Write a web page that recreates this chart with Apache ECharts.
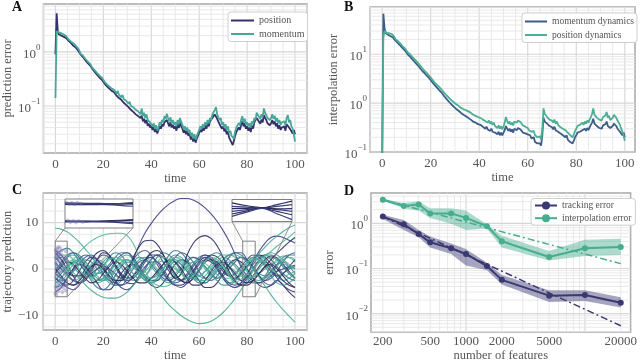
<!DOCTYPE html>
<html>
<head>
<meta charset="utf-8">
<script src="https://cdn.jsdelivr.net/npm/echarts@6/dist/echarts.min.js"></script>
<style>
  html, body { margin: 0; padding: 0; background: #fff; }
  #chart { width: 640px; height: 363px; }
</style>
</head>
<body>
<div id="chart"></div>
<script>
// ---------- data: panel A (prediction error, sampled every 0.5 time units) ----------
const timeStep = 0.5;
const predPosition = [
  0.9, 5.2, 2.3, 2.1, 2.25, 2.0, 2.1, 1.9, 2.0, 1.8,
  1.75, 1.6, 1.7, 1.45, 1.5, 1.3, 1.38, 1.2, 1.22, 1.05,
  0.98, 0.9, 0.88, 0.8, 0.78, 0.7, 0.72, 0.62, 0.64, 0.56,
  0.52, 0.48, 0.47, 0.42, 0.42, 0.37, 0.38, 0.33, 0.34, 0.3,
  0.28, 0.26, 0.26, 0.23, 0.24, 0.21, 0.22, 0.19, 0.2, 0.18,
  0.175, 0.155, 0.165, 0.14, 0.15, 0.13, 0.135, 0.115, 0.12, 0.105,
  0.105, 0.095, 0.1, 0.085, 0.09, 0.078, 0.082, 0.07, 0.075, 0.065,
  0.07, 0.06, 0.066, 0.052, 0.058, 0.048, 0.055, 0.043, 0.047, 0.04,
  0.044, 0.036, 0.041, 0.033, 0.038, 0.031, 0.036, 0.042, 0.038, 0.046,
  0.042, 0.05, 0.046, 0.055, 0.048, 0.042, 0.05, 0.04, 0.045, 0.038,
  0.042, 0.035, 0.046, 0.039, 0.05, 0.042, 0.038, 0.032, 0.036, 0.03,
  0.034, 0.028, 0.031, 0.024, 0.027, 0.022, 0.026, 0.021, 0.025, 0.028,
  0.032, 0.036, 0.033, 0.04, 0.035, 0.044, 0.038, 0.048, 0.042, 0.052,
  0.048, 0.06, 0.056, 0.07, 0.075, 0.058, 0.06, 0.046, 0.05, 0.038,
  0.042, 0.034, 0.038, 0.03, 0.034, 0.026, 0.028, 0.021, 0.019, 0.023,
  0.028, 0.033, 0.031, 0.04, 0.036, 0.045, 0.052, 0.042, 0.048, 0.038,
  0.042, 0.035, 0.04, 0.033, 0.043, 0.038, 0.05, 0.046, 0.06, 0.055,
  0.052, 0.047, 0.056, 0.05, 0.068, 0.06, 0.055, 0.048, 0.052, 0.044,
  0.048, 0.055, 0.046, 0.052, 0.042, 0.048, 0.038, 0.044, 0.036, 0.04,
  0.037, 0.042, 0.035, 0.046, 0.05, 0.04, 0.043, 0.034, 0.031, 0.036,
  0.03
];
const predMomentum = [
  0.14, 2.4, 2.6, 2.3, 2.5, 2.2, 2.35, 2.1, 2.2, 1.95,
  1.9, 1.7, 1.85, 1.55, 1.6, 1.45, 1.5, 1.3, 1.35, 1.15,
  1.05, 0.92, 0.98, 0.85, 0.88, 0.74, 0.8, 0.66, 0.7, 0.6,
  0.56, 0.5, 0.54, 0.45, 0.47, 0.4, 0.43, 0.36, 0.38, 0.33,
  0.31, 0.28, 0.3, 0.25, 0.27, 0.23, 0.25, 0.21, 0.22, 0.2,
  0.2, 0.17, 0.19, 0.16, 0.17, 0.145, 0.16, 0.135, 0.14, 0.125,
  0.13, 0.11, 0.12, 0.1, 0.105, 0.095, 0.1, 0.085, 0.09, 0.08,
  0.085, 0.07, 0.09, 0.065, 0.075, 0.06, 0.07, 0.055, 0.058, 0.05,
  0.052, 0.042, 0.048, 0.038, 0.044, 0.035, 0.04, 0.05, 0.045, 0.055,
  0.05, 0.065, 0.058, 0.072, 0.06, 0.052, 0.062, 0.048, 0.055, 0.045,
  0.05, 0.042, 0.055, 0.046, 0.06, 0.05, 0.045, 0.038, 0.042, 0.035,
  0.04, 0.033, 0.036, 0.028, 0.032, 0.025, 0.03, 0.024, 0.028, 0.032,
  0.036, 0.042, 0.038, 0.046, 0.04, 0.05, 0.044, 0.055, 0.048, 0.06,
  0.055, 0.07, 0.065, 0.085, 0.095, 0.07, 0.075, 0.055, 0.06, 0.045,
  0.05, 0.04, 0.046, 0.036, 0.042, 0.032, 0.035, 0.028, 0.03, 0.025,
  0.034, 0.04, 0.038, 0.048, 0.044, 0.055, 0.065, 0.05, 0.058, 0.045,
  0.05, 0.042, 0.048, 0.04, 0.052, 0.046, 0.06, 0.055, 0.075, 0.068,
  0.065, 0.058, 0.07, 0.062, 0.09, 0.075, 0.068, 0.06, 0.065, 0.055,
  0.06, 0.07, 0.058, 0.066, 0.052, 0.06, 0.048, 0.055, 0.045, 0.05,
  0.046, 0.052, 0.044, 0.06, 0.068, 0.05, 0.055, 0.042, 0.038, 0.03,
  0.022
];

// ---------- data: panel B (interpolation error) ----------
const interpMomentumDyn = [
  0.05, 68, 34, 27, 26, 25, 25.5, 23.5, 24, 22,
  21, 19, 19.5, 17, 17.5, 15, 15.5, 13.2, 13.5, 11.8,
  11.2, 10, 10.3, 9, 9.1, 7.9, 8, 6.9, 7, 6.1,
  5.8, 5.3, 5.4, 4.6, 4.8, 4.1, 4.2, 3.6, 3.7, 3.2,
  3.1, 2.75, 2.8, 2.4, 2.45, 2.1, 2.15, 1.85, 1.9, 1.65,
  1.6, 1.4, 1.45, 1.22, 1.25, 1.08, 1.1, 0.95, 0.98, 0.85,
  0.86, 0.76, 0.8, 0.7, 0.72, 0.63, 0.66, 0.58, 0.6, 0.54,
  0.56, 0.5, 0.53, 0.46, 0.48, 0.42, 0.45, 0.4, 0.42, 0.37,
  0.4, 0.36, 0.38, 0.33, 0.35, 0.3, 0.33, 0.29, 0.31, 0.27,
  0.3, 0.26, 0.28, 0.25, 0.27, 0.23, 0.26, 0.22, 0.25, 0.22,
  0.24, 0.28, 0.34, 0.3, 0.27, 0.3, 0.26, 0.29, 0.25, 0.3,
  0.32, 0.28, 0.31, 0.34, 0.29, 0.27, 0.25, 0.27, 0.24, 0.26,
  0.23, 0.21, 0.22, 0.19, 0.18, 0.2, 0.16, 0.17, 0.15, 0.14,
  0.15, 0.135, 0.22, 0.5, 0.42, 0.45, 0.38, 0.4, 0.34, 0.36,
  0.32, 0.29, 0.33, 0.28, 0.3, 0.26, 0.28, 0.24, 0.26, 0.22,
  0.23, 0.2, 0.22, 0.18, 0.19, 0.16, 0.17, 0.15, 0.17, 0.2,
  0.22, 0.25, 0.23, 0.26, 0.24, 0.28, 0.26, 0.3, 0.27, 0.31,
  0.28, 0.32, 0.36, 0.4, 0.48, 0.38, 0.4, 0.34, 0.36, 0.31,
  0.34, 0.3, 0.35, 0.32, 0.37, 0.42, 0.34, 0.37, 0.31, 0.33,
  0.34, 0.38, 0.4, 0.34, 0.3, 0.28, 0.26, 0.24, 0.22, 0.25,
  0.2
];
const interpPositionDyn = [
  0.05, 22, 30, 28, 27, 26.5, 27, 25, 26, 24,
  23, 20.5, 21, 18.5, 19, 16.5, 17, 14.5, 15, 13,
  12.5, 11, 11.5, 10, 10.2, 8.8, 9, 7.8, 8, 6.9,
  6.6, 6, 6.1, 5.2, 5.4, 4.6, 4.8, 4.1, 4.2, 3.6,
  3.5, 3.1, 3.2, 2.7, 2.8, 2.4, 2.5, 2.15, 2.2, 1.9,
  1.9, 1.65, 1.7, 1.45, 1.5, 1.3, 1.35, 1.15, 1.2, 1.05,
  1.1, 0.95, 1.0, 0.88, 0.92, 0.8, 0.86, 0.75, 0.8, 0.72,
  0.76, 0.68, 0.72, 0.64, 0.66, 0.58, 0.62, 0.55, 0.58, 0.52,
  0.56, 0.5, 0.53, 0.46, 0.5, 0.43, 0.47, 0.4, 0.44, 0.38,
  0.42, 0.36, 0.4, 0.34, 0.37, 0.31, 0.35, 0.3, 0.34, 0.29,
  0.33, 0.4, 0.52, 0.44, 0.38, 0.42, 0.36, 0.4, 0.35, 0.42,
  0.46, 0.4, 0.44, 0.48, 0.41, 0.38, 0.35, 0.38, 0.33, 0.36,
  0.31, 0.28, 0.3, 0.26, 0.24, 0.27, 0.22, 0.24, 0.2, 0.19,
  0.21, 0.18, 0.3, 0.78, 0.6, 0.65, 0.52, 0.56, 0.46, 0.5,
  0.44, 0.4, 0.46, 0.38, 0.42, 0.36, 0.38, 0.32, 0.35, 0.3,
  0.32, 0.28, 0.3, 0.25, 0.26, 0.22, 0.24, 0.2, 0.23, 0.27,
  0.3, 0.34, 0.31, 0.36, 0.33, 0.4, 0.36, 0.42, 0.38, 0.44,
  0.4, 0.46, 0.52, 0.6, 0.78, 0.58, 0.62, 0.5, 0.54, 0.46,
  0.5, 0.44, 0.52, 0.48, 0.56, 0.66, 0.5, 0.55, 0.45, 0.48,
  0.5, 0.58, 0.62, 0.5, 0.44, 0.4, 0.36, 0.3, 0.26, 0.22,
  0.17
];

// ---------- data: panel C (trajectory prediction, sampled every 2.5 time units) ----------
const trajStep = 2.5;
const trajectories = [
  [4, 3, 1, -1.5, -3, -2.5, -0.5, 2, 3.5, 3, 1, -1.5, -3, -3.2, -2, 0, 2, 3, 2.5, 1, -1, -2.5, -3, -2, 0, 2, 3, 2.6, 1, -1, -2.8, -3.5, -3, -1.5, 0.5, 2, 2.8, 2.4, 1, -0.5, -2],
  [-4, -3.5, -2, 0, 2, 3, 2.5, 1, -1, -2.5, -3, -2, 0, 2, 3.5, 4, 3, 1, -1, -2.5, -3, -2.5, -1, 1, 2.5, 3, 2, 0, -2, -3.5, -4, -3, -1, 1, 2.5, 3, 2, 0.5, -1, -2, -2.5],
  [2, 2.5, 2, 0.5, -1, -2, -1.5, 0, 1.5, 2.5, 2, 0.5, -1.5, -2.5, -2, 0, 2, 3, 2.5, 0.5, -1.5, -2.5, -2, -0.5, 1.5, 2.5, 2, 0, -2, -3, -2.5, -1, 1, 2.5, 3, 2, 0, -1.5, -2.5, -2, -1],
  [0, 1, 2.5, 3, 2, 0, -2, -3, -2.5, -1, 1, 2.5, 3, 2, 0, -1.5, -2.5, -2, 0, 2, 3, 2.5, 1, -1, -2.5, -3, -2, 0, 2, 3, 2.5, 1, -0.5, -2, -2.5, -1.5, 0.5, 2, 2.8, 2.5, 1.5],
  [-2, -3, -4, -4.5, -3.5, -1.5, 0.5, 1.5, 1, -0.5, -2.5, -4, -4.5, -3.5, -1.5, 0.5, 1.5, 1.5, 0, -2, -3.5, -4, -3, -1, 1, 2, 1.5, 0, -2, -3.5, -4, -3.5, -2, 0, 1.5, 1.5, 0, -2, -3.5, -4.5, -5],
  [3, 4, 4.5, 3.5, 1.5, -0.5, -1.5, -1, 0.5, 2.5, 3.5, 3, 1, -1, -2, -1.5, 0.5, 2.5, 3.5, 3, 1.5, -0.5, -2, -2, -0.5, 1.5, 3, 3.5, 2.5, 0.5, -1.5, -2.5, -2, 0, 2, 3, 3, 2, 0.5, -1, -2],
  [1, 0, -1.5, -2.5, -2, -0.5, 1, 2, 1.5, 0, -1.5, -2, -1, 0.5, 2, 2.5, 1.5, 0, -1.5, -2, -1, 0.5, 2, 2.5, 1.5, 0, -1.5, -2, -1, 0.5, 2, 2.5, 1.5, 0, -1.5, -2, -1, 0.5, 2, 2.5, 2],
  [-5, -4, -2, 0, 1, 0.5, -1, -3, -4.5, -4.5, -3, -1, 0.5, 1, 0, -2, -3.5, -4, -3, -1, 1, 2, 1.5, -0.5, -2.5, -4, -4, -3, -1, 1, 2, 1.5, 0, -2, -3.5, -4, -3.5, -2.5, -3.5, -5, -6.2],
  [-1, 1, 2.5, 3.5, 3, 1.5, 0, -1, -0.5, 1, 2.5, 3.5, 3.5, 2, 0, -1.5, -2, -1, 1, 3, 4, 3.5, 2, 0, -1.5, -2, -1, 0.5, 2, 3, 3.5, 3, 1.5, 0, -1, -1.5, -0.5, 1, 2.5, 3, 3],
  [1.5, 0, -1, -0.5, 1, 2.5, 3, 2, 0, -2, -3.5, -3.5, -2, 0, 1.5, 2, 1, -0.5, -2, -2.5, -1.5, 0, 1.5, 2.5, 2, 0.5, -1, -2, -1.5, 0, 1.5, 2.5, 2, 0.5, -1.5, -3, -3.5, -2.5, -1, 0, 0.5],
  [-3, -2, 0, 1.5, 2, 1, -0.5, -2, -2.5, -1.5, 0, 1.5, 2, 1, -1, -2.5, -3, -2, 0, 1.5, 2, 1, -0.5, -2, -2.5, -1.5, 0, 1.5, 2.5, 2, 0.5, -1, -2, -1.5, 0, 1.5, 2.5, 2, 0.5, -1, -2],
  [2.5, 1, -1, -2.5, -3, -2, 0, 2, 3, 2.5, 0.5, -1.5, -2.5, -2, -0.5, 1.5, 3, 3, 1.5, -0.5, -2, -2.5, -1.5, 0.5, 2, 3, 2.5, 1, -0.5, -1.5, -1, 0.5, 2, 3, 2.5, 1, -0.5, -1.5, -1, 0.5, 2],
  [-2.5, -1, 0.5, 1.5, 1, -0.5, -2.5, -4, -4.5, -3.5, -1.5, 0.5, 1.5, 1, -0.5, -2, -3, -2.5, -1, 0.5, 1.5, 1, -0.5, -2, -3, -3, -2, -0.5, 1, 1.5, 1, -0.5, -2, -3, -3, -2, -0.5, 1, 1.5, 0.5, -1],
  [-0.5, 1.5, 3, 3.5, 2.5, 0.5, -1.5, -2.5, -2, -0.5, 1.5, 3, 3.5, 2.5, 0.5, -1.5, -2.5, -2.5, -1, 1, 2.5, 3.5, 3, 1.5, -0.5, -2, -2.5, -1.5, 0.5, 2.5, 3.5, 3.5, 2, 0, -1.5, -2.5, -2, -0.5, 1.5, 3, 3.5],
  [-2, -2.5, -2, -0.5, 1, 2, 1.5, 0, -1.5, -3, -3.5, -2.5, -0.5, 1.5, 2.5, 2, 0.5, -1, -2.5, -3, -2.5, -1, 0.5, 1.5, 1.5, 0.5, -1, -2.5, -3.5, -3.5, -2.5, -0.5, 1.5, 2.5, 2, 0.5, -1.5, -3, -3.5, -3, -2],
  [3.5, 2, 0, -1.5, -1.5, 0, 2, 3.5, 4, 3, 1, -1, -2, -1.5, 0, 2, 3.5, 4, 3, 1, -1, -2.5, -3, -2, 0, 1.5, 2, 1.5, 0, -1.5, -2, -1, 0.5, 2, 3, 2.5, 1, -1, -2.5, -3.5, -4],
  [-1, -2, -3, -3.5, -3, -2, -1, 0, 0.5, 0, -1, -2, -1, 2, 5.2, 7.8, 9.8, 11.5, 12.9, 14, 14.8, 15.2, 15.2, 14.9, 14.2, 13.2, 11.9, 10.3, 8.3, 6, 3.2, 0.5, -1.5, -2.5, -3, -2.5, -1.5, -0.5, 0, 0.5, 0.8],
  [8.8, 8.6, 8, 7, 5.8, 4.3, 2.8, 1.2, -0.3, -1.5, -2.2, -2.4, -2.2, -1.6, -1.2, -1.8, -3, -4.8, -6.3, -7.8, -9, -10.1, -10.9, -11.5, -11.8, -11.7, -11.3, -10.5, -9.4, -8, -6.4, -4.5, -2.5, -0.5, 1.5, 3, 3.5, 3, 2, 1, 0],
  [-3, -2, 0, 2, 3.6, 4.9, 6, 6.8, 7.3, 7.6, 7.7, 7.7, 7.2, 5.5, 2.6, -0.5, -2.5, -3.5, -3.8, -3.5, -2.5, -1, 0.5, 1.5, 1.8, 1.2, 0, -1.2, -2, -2, -1.2, 0, 1.2, 2, 2, 1.2, 0, -1, -1.5, -1.2, -0.5],
  [1, 0.5, 0, -0.8, -2, -3.4, -4.6, -5.5, -6.1, -6.3, -6.3, -5.9, -5, -3.6, -2, -0.5, 0.8, 1.5, 1.6, 1, 0, -1, -1.8, -2, -1.5, -0.5, 0.5, 1.2, 1.2, 0.5, -0.5, -1.5, -2, -1.8, -1, 0, 1, 1.5, 1.2, 0.5, 0],
  [0, -1.5, -3, -3.5, -2.5, -1, 0.5, 1, 0, -1.5, -2.5, -2.5, -0.5, 2.5, 4.8, 6.1, 6.2, 5.3, 3.2, 0.3, -2, -1, 3, 5.5, 6.8, 7.2, 6.6, 5, 2.5, -0.5, -2.5, -3.5, -3.5, -2.5, -1, 0.5, 1, 0, -1.5, -3, -4],
  [-2, -3, -3.5, -2.5, -0.5, 1.5, 2.5, 2, 0.5, -1.5, -3, -3.5, -3, -1.5, 0.5, 2, 2.5, 1.5, -0.5, -2.5, -3.5, -3.5, -2.5, -0.5, 1.5, 2.5, 2, 0.5, -1.5, -3, -3.5, -3, -1.5, 1.5, 3.8, 5.6, 6.8, 7.1, 6.8, 6.2, 5.6],
  [-1, 0.5, 1.5, 1, -0.5, -2, -3, -2.5, -1, 0.5, 1.5, 1, -0.5, -2, -3, -3, -2, -0.5, 1, 2, 1.5, 0, -2, -3.5, -3.5, -2.5, -0.5, 1, 1.5, 0.5, -1, -2.5, -3, -2.5, -1, 0.5, 2, 3.4, 4.6, 5.8, 6.8],
  [-1.5, -0.5, 1, 2, 1.5, 0, -1.5, -2.5, -2, -0.5, 1, 2, 2, 0.5, -1, -2.5, -3, -2, 0, 1.5, 2, 1.5, 0, -1.5, -2.5, -2.5, -1.5, 0, 0.5, -1, -2.5, -1.2, 0.3, 1.8, 3.3, 4.7, 6, 7.1, 8.1, 8.9, 9.5],
  [2, 3, 3, 2, 0, -1.5, -2, -1, 0.5, 2, 2.5, 2, 0.5, -1, -2, -1.5, 0, 1.5, 2.5, 2, 0.5, -1, -2, -1.5, 0, 1.5, 2.5, 2, 0.5, -1.5, -3, -2.2, -1.2, 0, 1.3, 2.6, 3.8, 4.9, 5.9, 6.9, 8],
  [-4, -3, -1, 1, 2, 1.5, 0, -1.5, -2.5, -2, -0.5, 1, 2, 1.5, 0, -1.5, -2, -1.5, 0, 1.5, 2.5, 2, 0.5, -1, -1.5, -0.5, 1, 2.5, 3, 3, 3, 2.5, 1.5, 0, -1.8, -3.7, -5.6, -7.3, -8.8, -10.2, -11.5]
];
const trajColors = [
  '#2b2a5a', '#3a5b8c', '#3f9a9a', '#48ab96', '#3b3f80', '#3b7a96', '#55b896', '#2b2a5a',
  '#3b7a96', '#3a5b8c', '#48ab96', '#3b3f80', '#3b7a96', '#3a5b8c', '#3f9a9a', '#2b2a5a',
  '#3b3f80', '#48ab96', '#55b896', '#48ab96', '#2b2a5a', '#3b3f80', '#2b2a5a', '#48ab96',
  '#55b896', '#48ab96'
];
const trajObs = [
  [0.2, 4.1], [0.5, 3.6], [0.8, 4.3], [1.1, 3.2], [1.4, 2.8], [0.3, -3.8], [0.6, -4.4], [0.9, -3.2],
  [1.2, -4.8], [1.5, -2.9], [0.4, 1.2], [0.7, 0.5], [1.0, 1.8], [1.3, -0.6], [1.6, -1.4], [1.9, 2.2],
  [2.2, -2.1], [2.5, 3.1], [2.8, -3.6], [3.1, 0.9], [3.4, -4.1], [3.7, 2.6], [4.0, -1.1], [4.3, 3.9],
  [4.6, -2.7], [0.1, -5.3], [0.2, 2.4], [2.0, 4.6], [3.0, -5.0], [4.8, 1.5],
  [0.3, -1.8], [0.6, 2.9], [0.9, -0.9], [1.2, 4.7], [1.5, 0.3], [1.8, -4.2], [2.1, 1.4], [2.4, -0.4],
  [2.7, 4.0], [3.3, -2.5], [3.6, 0.2], [3.9, -3.4], [4.2, 2.0], [4.5, -4.6], [0.5, -5.6], [1.7, 3.7]
];
// zoomed regions [t0, y0, t1, y1]
const insetRegions = [[0, -6, 5, 6], [78.2, -6, 83.4, 6]];
const insetLeftTime = [0, 1, 2, 3, 4, 5];
const insetLeftLines = [
  [4.4, 4.3, 4.2, 4.1, 4.0, 3.9],
  [4.0, 4.0, 3.9, 3.7, 3.4, 3.0],
  [3.8, 3.7, 3.7, 3.8, 4.0, 4.3],
  [4.2, 4.1, 4.0, 4.0, 4.1, 4.5],
  [-3.0, -3.1, -3.1, -3.0, -2.8, -2.5],
  [-3.3, -3.3, -3.4, -3.4, -3.5, -3.7],
  [-3.5, -3.5, -3.4, -3.3, -3.0, -2.8],
  [-3.2, -3.2, -3.3, -3.5, -3.8, -4.2]
];
const insetLeftObs = [
  [0.1, 4.6], [0.3, 3.9], [0.5, 4.5], [0.7, 3.8], [0.9, 4.4], [1.2, 4.0],
  [0.2, -2.8], [0.4, -3.6], [0.6, -3.0], [0.8, -3.7], [1.0, -3.1], [1.3, -3.5]
];
const insetRightTime = [78.2, 79.5, 80.8, 82.1, 83.4];
const insetRightLines = [
  [4.2, 2.6, 1.4, -0.5, -2.3],
  [2.3, 1.8, 1.4, 2.2, 3.2],
  [1.0, 1.2, 1.4, 3.2, 5.1],
  [-0.5, 0.5, 1.4, 0.5, -0.5],
  [-1.9, -0.2, 1.4, 0.9, 1.0],
  [-3.2, -0.9, 1.2, -1.8, -5.0]
];

// ---------- data: panel D (error vs number of features) ----------
const features = [200, 300, 400, 500, 750, 1000, 1500, 2000, 5000, 10000, 20000];
const trackErr = [1.41, 0.95, 0.58, 0.38, 0.28, 0.21, 0.113, 0.056, 0.025, 0.026, 0.0174];
const trackHigh = [1.55, 1.19, 0.71, 0.51, 0.36, 0.27, 0.134, 0.072, 0.033, 0.033, 0.023];
const trackLow = [1.25, 0.71, 0.49, 0.29, 0.21, 0.117, 0.092, 0.044, 0.018, 0.019, 0.0136];
const interpErr = [3.34, 2.42, 2.61, 1.66, 1.66, 1.32, 0.86, 0.4, 0.18, 0.28, 0.3];
const interpHigh = [3.5, 2.84, 3.08, 2.15, 2.15, 1.89, 0.95, 0.53, 0.245, 0.435, 0.457];
const interpLow = [3.18, 2.15, 1.89, 1.32, 0.98, 0.71, 0.77, 0.29, 0.15, 0.19, 0.2];
const fitFeatures = [200, 20000];
const trackFit = [1.41, 0.0054];
const interpFit = [3.34, 0.128];
const featureTicks = [200, 500, 1000, 2000, 5000, 20000];

// ---------- styling ----------
const FONT = '"Liberation Serif", "DejaVu Serif", serif';
const TXT = '#555';
const C_POS = '#34316b', C_MOM = '#48a898';
const C_MDYN = '#3b5d88', C_PDYN = '#4cae94';
const C_TRK = '#3a3872', C_INT = '#46ae8e';

function pairs(vals, step) { return vals.map((v, i) => [i * step, v]); }
function logTicks(lo, hi) {
  const out = [];
  for (let e = -4; e <= 5; e++) for (let d = 1; d <= 9; d++) {
    const v = +(d * Math.pow(10, e)).toPrecision(3);
    if (v >= lo && v <= hi) out.push(v);
  }
  return out;
}
function steps(lo, hi, st) { const out = []; for (let v = lo; v <= hi + 1e-9; v += st) out.push(+v.toFixed(3)); return out; }
function isPow10(v) { const l = Math.log10(v); return Math.abs(l - Math.round(l)) < 1e-6; }

function gridLines(ai, values, horizontal, ref, majorTest) {
  return {
    type: 'custom', xAxisIndex: ai, yAxisIndex: ai, silent: true, z: 1,
    data: values.map(v => horizontal ? [ref, v] : [v, ref]),
    renderItem: function (params, api) {
      const cs = params.coordSys;
      const p = api.coord([api.value(0), api.value(1)]);
      const major = majorTest(horizontal ? api.value(1) : api.value(0));
      const shape = horizontal
        ? { x1: cs.x, y1: p[1], x2: cs.x + cs.width, y2: p[1] }
        : { x1: p[0], y1: cs.y, x2: p[0], y2: cs.y + cs.height };
      return { type: 'line', shape: shape, style: { stroke: major ? '#d6d6d6' : '#e6e6e6', lineWidth: major ? 1.1 : 0.9 } };
    }
  };
}

function powLabel(v) {
  const e = Math.round(Math.log10(v));
  return '{b|10}{s|' + (e < 0 ? '\u2212' + (-e) : e) + '}';
}
const powRich = {
  b: { fontFamily: FONT, fontSize: 13, color: TXT, lineHeight: 18, verticalAlign: 'bottom' },
  s: { fontFamily: FONT, fontSize: 9, color: TXT, lineHeight: 10, verticalAlign: 'top' }
};
const nameStyle = { fontFamily: FONT, fontSize: 12.5, color: TXT };
const labelBase = { fontFamily: FONT, fontSize: 13, color: TXT };

function linAxis(idx, min, max, labels, extra) {
  return Object.assign({
    type: 'value', gridIndex: idx, min: min, max: max,
    axisLine: { show: false }, axisTick: { show: false }, splitLine: { show: false },
    axisLabel: Object.assign({ customValues: labels, formatter: v => (v < 0 ? '\u2212' + (-v) : String(v)) }, labelBase, { margin: 5 })
  }, extra || {});
}
function logAxis(idx, min, max, labels, extra) {
  return Object.assign({
    type: 'log', logBase: 10, gridIndex: idx, min: min, max: max,
    axisLine: { show: false }, axisTick: { show: false }, splitLine: { show: false },
    axisLabel: { customValues: labels, formatter: powLabel, rich: powRich, margin: 3 }
  }, extra || {});
}

const frame = { show: true, borderColor: '#a8a8a8', borderWidth: 1.5, backgroundColor: '#fff' };

const series = [];
// gridlines
series.push(gridLines(0, steps(-5, 105, 5), false, 0.1, v => v % 20 === 0));
series.push(gridLines(0, logTicks(0.0135, 7.7), true, 0, isPow10));
series.push(gridLines(1, steps(-5, 100, 5), false, 1, v => v % 20 === 0));
series.push(gridLines(1, logTicks(0.1, 93), true, 0, isPow10));
series.push(gridLines(2, steps(-5, 105, 5), false, 0, v => v % 20 === 0));
series.push(gridLines(2, steps(-12.5, 15, 2.5), true, 0, v => v % 10 === 0));
series.push(gridLines(3, logTicks(159, 24200), false, 1, isPow10));
series.push(gridLines(3, logTicks(0.0039, 4.7), true, 1000, isPow10));

// panel A
series.push({ name: 'position', type: 'line', xAxisIndex: 0, yAxisIndex: 0, data: pairs(predPosition, timeStep),
  symbol: 'none', lineStyle: { width: 1.8, color: C_POS }, itemStyle: { color: C_POS }, z: 3 });
series.push({ name: 'momentum', type: 'line', xAxisIndex: 0, yAxisIndex: 0, data: pairs(predMomentum, timeStep),
  symbol: 'none', lineStyle: { width: 1.8, color: C_MOM }, itemStyle: { color: C_MOM }, z: 3 });
// panel B
series.push({ name: 'momentum dynamics', type: 'line', xAxisIndex: 1, yAxisIndex: 1, data: pairs(interpMomentumDyn, timeStep),
  symbol: 'none', lineStyle: { width: 1.8, color: C_MDYN }, itemStyle: { color: C_MDYN }, z: 3 });
series.push({ name: 'position dynamics', type: 'line', xAxisIndex: 1, yAxisIndex: 1, data: pairs(interpPositionDyn, timeStep),
  symbol: 'none', lineStyle: { width: 1.8, color: C_PDYN }, itemStyle: { color: C_PDYN }, z: 3 });
// panel C
trajectories.forEach((tr, k) => {
  series.push({ type: 'line', xAxisIndex: 2, yAxisIndex: 2, data: pairs(tr, trajStep), smooth: 0.45,
    symbol: 'none', silent: true, lineStyle: { width: 1.1, color: trajColors[k], opacity: 0.9 }, z: 3 });
});
series.push({ type: 'scatter', xAxisIndex: 2, yAxisIndex: 2, data: trajObs, symbolSize: 4, silent: true,
  itemStyle: { color: 'rgba(120,116,180,0.5)' }, z: 4 });
series.push({ type: 'custom', xAxisIndex: 2, yAxisIndex: 2, silent: true, z: 5, data: insetRegions,
  renderItem: function (params, api) {
    const a = api.coord([api.value(0), api.value(3)]);
    const b = api.coord([api.value(2), api.value(1)]);
    return { type: 'rect', shape: { x: a[0], y: a[1], width: b[0] - a[0], height: b[1] - a[1] },
      style: { fill: 'none', stroke: '#808080', lineWidth: 1 } };
  } });
// insets
const insetNavy = ['#2b2a5a', '#3b3f80', '#2b2a5a', '#3b3f80', '#2b2a5a', '#3b3f80', '#2b2a5a', '#3b3f80'];
insetLeftLines.forEach((ln, k) => {
  series.push({ type: 'line', xAxisIndex: 4, yAxisIndex: 4, data: ln.map((v, i) => [insetLeftTime[i], v]), smooth: 0.4,
    symbol: 'none', silent: true, lineStyle: { width: 1.2, color: insetNavy[k] }, z: 12 });
});
series.push({ type: 'scatter', xAxisIndex: 4, yAxisIndex: 4, data: insetLeftObs, symbolSize: 4, silent: true,
  itemStyle: { color: 'rgba(120,116,180,0.45)' }, z: 13 });
insetRightLines.forEach((ln, k) => {
  series.push({ type: 'line', xAxisIndex: 5, yAxisIndex: 5, data: ln.map((v, i) => [insetRightTime[i], v]), smooth: 0.4,
    symbol: 'none', silent: true, lineStyle: { width: 1.2, color: insetNavy[k] }, z: 12 });
});
// panel D
function band(upper, lower, color) {
  return { type: 'custom', xAxisIndex: 3, yAxisIndex: 3, silent: true, z: 2, data: [[features[0], upper[0]]],
    renderItem: function (params, api) {
      const pts = [];
      features.forEach((f, i) => pts.push(api.coord([f, upper[i]])));
      for (let i = features.length - 1; i >= 0; i--) pts.push(api.coord([features[i], lower[i]]));
      return { type: 'polygon', shape: { points: pts }, style: { fill: color } };
    } };
}
series.push(band(trackHigh, trackLow, 'rgba(58,56,114,0.45)'));
series.push(band(interpHigh, interpLow, 'rgba(70,174,142,0.45)'));
series.push({ type: 'line', xAxisIndex: 3, yAxisIndex: 3, data: fitFeatures.map((f, i) => [f, trackFit[i]]), symbol: 'none', silent: true,
  lineStyle: { width: 1.5, color: C_TRK, type: [7, 3, 2, 3] }, z: 3 });
series.push({ type: 'line', xAxisIndex: 3, yAxisIndex: 3, data: fitFeatures.map((f, i) => [f, interpFit[i]]), symbol: 'none', silent: true,
  lineStyle: { width: 1.5, color: C_INT, type: [7, 3, 2, 3] }, z: 3 });
series.push({ name: 'tracking error', type: 'line', xAxisIndex: 3, yAxisIndex: 3, data: features.map((f, i) => [f, trackErr[i]]),
  symbol: 'circle', symbolSize: 6, lineStyle: { width: 2, color: C_TRK }, itemStyle: { color: C_TRK }, z: 4 });
series.push({ name: 'interpolation error', type: 'line', xAxisIndex: 3, yAxisIndex: 3, data: features.map((f, i) => [f, interpErr[i]]),
  symbol: 'circle', symbolSize: 6, lineStyle: { width: 2, color: C_INT }, itemStyle: { color: C_INT }, z: 4 });

const legendBase = {
  orient: 'vertical', itemWidth: 23, itemHeight: 10, itemGap: 3.3, padding: [2, 4, 2, 3],
  backgroundColor: '#fff', borderColor: '#cfcfcf', borderWidth: 1, borderRadius: 3, selectedMode: false,
  textStyle: { fontFamily: FONT, fontSize: 10, color: TXT }, lineStyle: { width: 2 }, z: 20
};
const lineLegend = { icon: 'rect', itemHeight: 2, itemGap: 2.5, padding: [3, 3, 2, 3], textStyle: { fontFamily: FONT, fontSize: 10, color: TXT, lineHeight: 11 } };
const panelLetter = (t, l, tp) => ({ text: t, left: l, top: tp, padding: 0,
  textStyle: { fontFamily: FONT, fontSize: 14, fontWeight: 'bold', color: '#111' } });

const option = {
  animation: false,
  backgroundColor: '#fff',
  title: [panelLetter('A', 12, 0), panelLetter('B', 344, 0), panelLetter('C', 12, 183), panelLetter('D', 344, 184)],
  legend: [
    Object.assign({}, legendBase, lineLegend, { data: ['position', 'momentum'], left: 228, top: 12 }),
    Object.assign({}, legendBase, lineLegend, { data: ['momentum dynamics', 'position dynamics'], left: 522, top: 13, itemWidth: 22,
      textStyle: { fontFamily: FONT, fontSize: 9.5, color: TXT, lineHeight: 11 } }),
    Object.assign({}, legendBase, { data: ['tracking error', 'interpolation error'], left: 531, top: 198.5, itemGap: 2.7, itemWidth: 22,
      textStyle: { fontFamily: FONT, fontSize: 9.5, color: TXT } })
  ],
  grid: [
    Object.assign({ left: 39, top: 4, width: 268, height: 149 }, frame),
    Object.assign({ left: 370, top: 7, width: 265, height: 145 }, frame),
    Object.assign({ left: 39, top: 193, width: 268, height: 144 }, frame),
    Object.assign({ left: 371, top: 193, width: 264, height: 144 }, frame),
    { left: 65, top: 199, width: 68, height: 29, show: true, borderColor: '#808080', borderWidth: 1, backgroundColor: '#fff', z: 10 },
    { left: 232, top: 199.5, width: 60, height: 22, show: true, borderColor: '#808080', borderWidth: 1, backgroundColor: '#fff', z: 10 }
  ],
  xAxis: [
    linAxis(0, -5, 105, [0, 20, 40, 60, 80, 100], { name: 'time', nameLocation: 'middle', nameGap: 15, nameTextStyle: nameStyle }),
    linAxis(1, -5, 104.2, [0, 20, 40, 60, 80, 100], { name: 'time', nameLocation: 'middle', nameGap: 16, nameTextStyle: nameStyle }),
    linAxis(2, -5, 105, [0, 20, 40, 60, 80, 100], { name: 'time', nameLocation: 'middle', nameGap: 15, nameTextStyle: nameStyle }),
    {
      type: 'log', logBase: 10, gridIndex: 3, min: 159, max: 24200,
      axisLine: { show: false }, axisTick: { show: false }, splitLine: { show: false },
      axisLabel: Object.assign({ customValues: featureTicks, margin: 3, formatter: v => String(v) }, labelBase),
      name: 'number of features', nameLocation: 'middle', nameGap: 15, nameTextStyle: nameStyle
    },
    { type: 'value', gridIndex: 4, min: insetRegions[0][0], max: insetRegions[0][2], show: false },
    { type: 'value', gridIndex: 5, min: insetRegions[1][0], max: insetRegions[1][2], show: false }
  ],
  yAxis: [
    logAxis(0, 0.0135, 7.7, [0.1, 1], { name: 'prediction error', nameLocation: 'middle', nameGap: 20, nameTextStyle: nameStyle }),
    logAxis(1, 0.1, 93, [0.1, 1, 10], { name: 'interpolation error', nameLocation: 'middle', nameGap: 29, nameTextStyle: nameStyle }),
    linAxis(2, -13.2, 16.4, [-10, 0, 10], { name: 'trajectory prediction', nameLocation: 'middle', nameGap: 20, nameTextStyle: nameStyle }),
    logAxis(3, 0.0039, 4.7, [0.01, 0.1, 1], { name: 'error', nameLocation: 'middle', nameGap: 35, nameTextStyle: nameStyle }),
    { type: 'value', gridIndex: 4, min: insetRegions[0][1], max: insetRegions[0][3], show: false },
    { type: 'value', gridIndex: 5, min: insetRegions[1][1], max: insetRegions[1][3], show: false }
  ],
  series: series
};

const chart = echarts.init(document.getElementById('chart'), null, { renderer: 'canvas' });
chart.setOption(option);

// connector lines between zoom rectangles and their insets
const links = [];
insetRegions.forEach((r, k) => {
  const gi = 4 + k;
  const a1 = chart.convertToPixel({ gridIndex: gi }, [r[0], r[1]]);
  const b1 = chart.convertToPixel({ gridIndex: 2 }, [r[0], r[3]]);
  const a2 = chart.convertToPixel({ gridIndex: gi }, [r[2], r[1]]);
  const b2 = chart.convertToPixel({ gridIndex: 2 }, [r[2], r[1]]);
  [[a1, b1], [a2, b2]].forEach(p => links.push({
    type: 'line', z: 9, silent: true,
    shape: { x1: p[0][0], y1: p[0][1], x2: p[1][0], y2: p[1][1] },
    style: { stroke: '#808080', lineWidth: 0.9 }
  }));
});
chart.setOption({ graphic: links });
</script>
</body>
</html>
